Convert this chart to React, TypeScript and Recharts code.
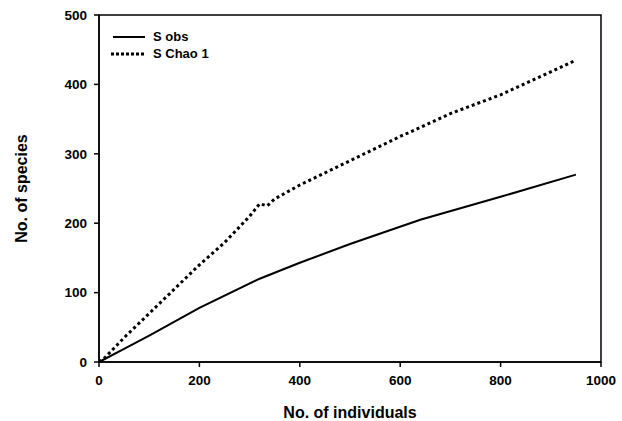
import { LineChart, Line, XAxis, YAxis, ReferenceArea } from 'recharts';

const obsIndividuals = [0, 50, 100, 200, 320, 400, 500, 640, 800, 950];
const obsSpecies = [0, 19, 38, 78, 120, 143, 170, 205, 238, 270];

const chaoIndividuals = [0, 10, 50, 100, 150, 200, 250, 300, 320, 335, 350, 400, 500, 600, 640, 700, 800, 900, 950];
const chaoSpecies = [0, 5, 35, 70, 105, 140, 172, 210, 228, 225, 235, 255, 290, 325, 338, 358, 385, 418, 435];

const xTicks = [0, 200, 400, 600, 800, 1000];
const yTicks = [0, 100, 200, 300, 400, 500];

const obsData = obsIndividuals.map((x, i) => ({ x, y: obsSpecies[i] }));
const chaoData = chaoIndividuals.map((x, i) => ({ x, y: chaoSpecies[i] }));

const FONT = '"Liberation Sans", Arial, sans-serif';

function LegendBox() {
  return (
    <div style={{ position: 'absolute', left: 111, top: 28, fontFamily: FONT, fontSize: 13, fontWeight: 'bold', color: '#000' }}>
      <div style={{ display: 'flex', alignItems: 'center', height: 17 }}>
        <svg width={34} height={6}>
          <line x1={2} y1={3} x2={34} y2={3} stroke="#000" strokeWidth={2} />
        </svg>
        <span style={{ marginLeft: 8 }}>S obs</span>
      </div>
      <div style={{ display: 'flex', alignItems: 'center', height: 17 }}>
        <svg width={34} height={6}>
          <line x1={0} y1={3} x2={34} y2={3} stroke="#000" strokeWidth={3} strokeDasharray="3 2" />
        </svg>
        <span style={{ marginLeft: 8 }}>S Chao 1</span>
      </div>
    </div>
  );
}

export default function App() {
  return (
    <div style={{ position: 'absolute', left: 0, top: 0, background: '#fff', width: 622, height: 421 }}>
      <LineChart width={622} height={421} margin={{ top: 15, right: 21, bottom: 0, left: 0 }}>
        <XAxis
          type="number"
          dataKey="x"
          domain={[0, 1000]}
          ticks={xTicks}
          height={59}
          tickSize={5}
          tickMargin={8}
          stroke="#000"
          strokeWidth={1.5}
          tick={{ fill: '#000', fontSize: 13.5, fontWeight: 'bold', fontFamily: FONT }}
          label={{ value: 'No. of individuals', position: 'insideBottom', offset: 3, fill: '#000', fontSize: 16, fontWeight: 'bold', fontFamily: FONT }}
        />
        <YAxis
          type="number"
          dataKey="y"
          domain={[0, 500]}
          ticks={yTicks}
          width={99}
          tickSize={5}
          tickMargin={7}
          stroke="#000"
          strokeWidth={1.5}
          tick={{ fill: '#000', fontSize: 13.5, fontWeight: 'bold', fontFamily: FONT }}
          label={{ value: 'No. of species', angle: -90, position: 'insideLeft', offset: 21, fill: '#000', fontSize: 16, fontWeight: 'bold', fontFamily: FONT, style: { textAnchor: 'middle' } }}
        />
        <ReferenceArea x1={0} x2={1000} y1={0} y2={500} fill="none" stroke="#000" strokeWidth={1.5} />
        <Line
          data={obsData}
          dataKey="y"
          type="linear"
          stroke="#000"
          strokeWidth={2}
          dot={false}
          isAnimationActive={false}
        />
        <Line
          data={chaoData}
          dataKey="y"
          type="linear"
          stroke="#000"
          strokeWidth={3}
          strokeDasharray="3 3"
          dot={false}
          isAnimationActive={false}
        />
      </LineChart>
      <LegendBox />
    </div>
  );
}
